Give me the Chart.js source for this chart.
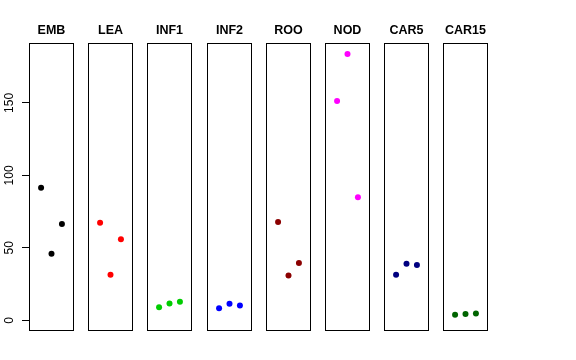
<!DOCTYPE html>
<html>
<head>
<meta charset="utf-8">
<script src="https://cdn.jsdelivr.net/npm/chart.js@4/dist/chart.umd.min.js"></script>
<style>
  body { margin: 0; background: #fff; }
  #wrap { position: relative; width: 576px; height: 360px; }
  canvas { position: absolute; }
</style>
</head>
<body>
<div id="wrap"></div>
<script>
// data (x positions 1..3 inside each panel)
const categories = ["EMB", "LEA", "INF1", "INF2", "ROO", "NOD", "CAR5", "CAR15"];
const xPos = [1, 2, 3];
const EMB = [91.5, 46.0, 66.4];
const LEA = [67.4, 31.5, 55.9];
const INF1 = [9.0, 11.7, 12.9];
const INF2 = [8.3, 11.5, 10.3];
const ROO = [67.8, 31.0, 39.5];
const NOD = [151.3, 183.7, 85.0];
const CAR5 = [31.5, 39.1, 38.2];
const CAR15 = [3.9, 4.4, 4.8];
const yTicks = [0, 50, 100, 150];

const series = [EMB, LEA, INF1, INF2, ROO, NOD, CAR5, CAR15];
const colors = ["#000000", "#FF0000", "#00CD00", "#0000FF", "#8B0000", "#FF00FF", "#000080", "#006400"];

// R style limits: ylim c(0, max) plus 4% on each side
const yMaxData = Math.max(...series.flat());
const yMin = -0.04 * yMaxData, yMax = 1.04 * yMaxData;

const FONT = "'Liberation Sans', Arial, Helvetica, sans-serif";

const boxPlugin = {
  id: "box",
  afterDraw(chart) {
    const a = chart.chartArea, ctx = chart.ctx;
    ctx.save();
    ctx.strokeStyle = "#000";
    ctx.lineWidth = 1;
    const l = Math.round(a.left), t = Math.round(a.top);
    const r = Math.round(a.right), b = Math.round(a.bottom);
    ctx.strokeRect(l + 0.5, t + 0.5, r - l - 1, b - t - 1);
    ctx.restore();
  }
};

// rotated y tick labels like R's las=0
const yLabelPlugin = {
  id: "yLabels",
  afterDraw(chart) {
    const y = chart.scales.y, ctx = chart.ctx;
    ctx.save();
    ctx.font = "12px " + FONT;
    ctx.fillStyle = "#000";
    ctx.textAlign = "center";
    ctx.textBaseline = "middle";
    yTicks.forEach(v => {
      ctx.save();
      ctx.translate(10, y.getPixelForValue(v));
      ctx.rotate(-Math.PI / 2);
      ctx.fillText(String(v), 0, 0);
      ctx.restore();
    });
    ctx.restore();
  }
};

const wrap = document.getElementById("wrap");
const axisW = 29, panelW = 45, step = 59.2, canvasTop = 18, canvasH = 313;

categories.forEach((name, i) => {
  const first = i === 0;
  const cv = document.createElement("canvas");
  const left = first ? 0 : Math.round(axisW + i * step);
  const w = first ? axisW + panelW : panelW;
  cv.width = w; cv.height = canvasH;
  cv.style.left = left + "px";
  cv.style.top = canvasTop + "px";
  cv.style.width = w + "px";
  cv.style.height = canvasH + "px";
  wrap.appendChild(cv);

  const yScale = {
    type: "linear",
    display: first,
    min: yMin,
    max: yMax
  };
  if (first) {
    Object.assign(yScale, {
      ticks: { display: false },
      grid: { display: true, drawOnChartArea: false, drawTicks: true, tickLength: 7, color: "#000" },
      border: { display: true, color: "#000" },
      afterBuildTicks: s => { s.ticks = yTicks.map(v => ({ value: v })); },
      afterFit: s => { s.width = axisW; }
    });
  }

  new Chart(cv.getContext("2d"), {
    type: "scatter",
    data: {
      datasets: [{
        data: xPos.map((x, k) => ({ x: x, y: series[i][k] })),
        backgroundColor: colors[i],
        borderWidth: 0,
        pointRadius: 3
      }]
    },
    options: {
      responsive: false,
      animation: false,
      events: [],
      layout: { padding: 0, autoPadding: false },
      plugins: {
        legend: { display: false },
        tooltip: { enabled: false },
        title: {
          display: true,
          text: name,
          fullSize: false,
          color: "#000",
          font: { family: FONT, size: 12.5, weight: "bold" },
          padding: { top: 5, bottom: 5.4 }
        }
      },
      scales: {
        x: { type: "linear", display: false, min: -0.16, max: 4.16 },
        y: yScale
      }
    },
    plugins: first ? [boxPlugin, yLabelPlugin] : [boxPlugin]
  });
});
</script>
</body>
</html>
